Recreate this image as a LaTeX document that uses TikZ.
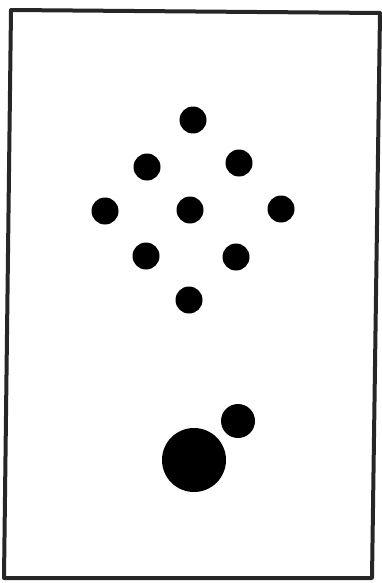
\documentclass[tikz,border=0pt]{standalone}
\usepackage{tikz}
\usetikzlibrary{positioning, calc}

\begin{document}
\begin{tikzpicture}[x=1pt, y=-1pt,
  dot/.style={circle, fill=black, inner sep=0pt, minimum size=27pt},
  frameline/.style={line width=4pt, draw=black!85, line join=round}]

  \useasboundingbox (0,0) rectangle (382,583);

  % frame corners
  \coordinate (tl) at (11,10);
  \coordinate (tr) at (380,13);
  \coordinate (br) at (372,578);
  \coordinate (bl) at (4,578);
  \draw[frameline] (tl) -- (tr) -- (br) -- (bl) -- cycle;

  % diamond of nine dots
  \node[dot] (d1) at (193,120) {};
  \node[dot] (d2) at (147,167) {};
  \node[dot] (d3) at (239,163) {};
  \node[dot] (d4) at (105,211) {};
  \node[dot] (d5) at (190,210) {};
  \node[dot] (d6) at (281,209) {};
  \node[dot] (d7) at (146,256) {};
  \node[dot] (d8) at (236,257) {};
  \node[dot] (d9) at (189,300) {};

  % large and small dot below
  \node[dot, minimum size=34pt] (small) at (238,421) {};
  \node[dot, minimum size=64pt] (big) at (194,460) {};
\end{tikzpicture}
\end{document}
